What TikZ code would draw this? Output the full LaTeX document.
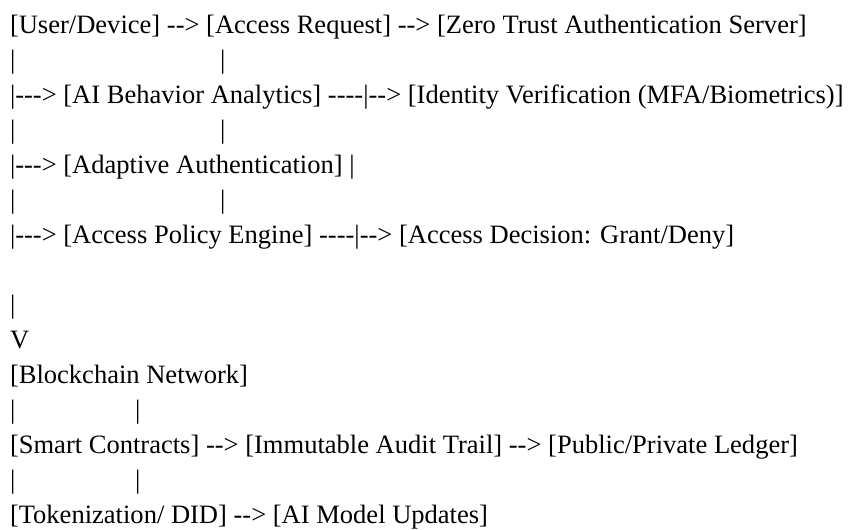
\documentclass[tikz,border=0pt]{standalone}
\usepackage{fontspec}
\setmainfont{Liberation Serif}[Ligatures=TeXOff]
\usepackage{tikz}

\tikzset{
    txt/.style={anchor=base west, inner sep=0pt, outer sep=0pt,
        font=\fontsize{19.9}{24}\selectfont}
}

\begin{document}
\begin{tikzpicture}[x=0.75pt,y=-0.75pt]
        \useasboundingbox (0,0) rectangle (853,529);
        % access flow
        \node[txt] (L0)  at (10,33)  {[User/Device] --> [Access Request] --> [Zero Trust Authentication Server]};
        \node[txt] (L1a) at (10,68)  {|};
        \node[txt] (L1b) at (220,68) {|};
        \node[txt] (L2)  at (10,103) {|---> [AI Behavior Analytics] ----|--> [Identity Verification (MFA/Biometrics)]};
        \node[txt] (L3a) at (10,138) {|};
        \node[txt] (L3b) at (220,138) {|};
        \node[txt] (L4)  at (10,173) {|---> [Adaptive Authentication] |};
        \node[txt] (L5a) at (10,208) {|};
        \node[txt] (L5b) at (220,208) {|};
        \node[txt] (L6)  at (10,243) {|---> [Access Policy Engine] ----|--> [Access Decision: Grant/Deny]};

        % down to the chain
        \node[txt] (D1)  at (10,313) {|};
        \node[txt] (D2)  at (10,348) {V};

        % blockchain layer
        \node[txt] (B0)  at (10,383) {[Blockchain Network]};
        \node[txt] (B1a) at (10,418) {|};
        \node[txt] (B1b) at (135,418) {|};
        \node[txt] (B2)  at (10,453) {[Smart Contracts] --> [Immutable Audit Trail] --> [Public/Private Ledger]};
        \node[txt] (B3a) at (10,488) {|};
        \node[txt] (B3b) at (135,488) {|};
        \node[txt] (B4)  at (10,523) {[Tokenization/ DID] --> [AI Model Updates]};
\end{tikzpicture}
\end{document}
